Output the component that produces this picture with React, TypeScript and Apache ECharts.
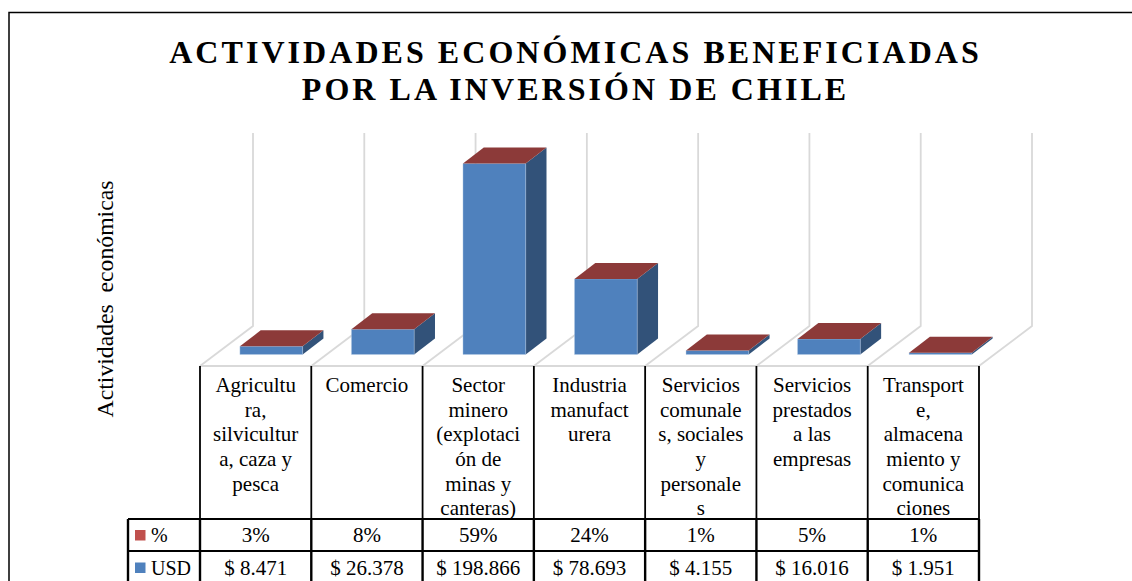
import React, { useEffect, useRef } from "react";
import * as echarts from "echarts";

const titleText = "ACTIVIDADES ECONÓMICAS BENEFICIADAS\nPOR LA INVERSIÓN DE CHILE";
const yAxisName = "Actividades  económicas";
const categories = [
  "Agricultu\nra,\nsilvicultur\na, caza y\npesca",
  "Comercio",
  "Sector\nminero\n(explotaci\nón de\nminas y\ncanteras)",
  "Industria\nmanufact\nurera",
  "Servicios\ncomunale\ns, sociales\ny\npersonale\ns",
  "Servicios\nprestados\na las\nempresas",
  "Transport\ne,\nalmacena\nmiento y\ncomunica\nciones",
];
const usdValues = [8471, 26378, 198866, 78693, 4155, 16016, 1951];
const pctValues = [3, 8, 59, 24, 1, 5, 1];
const usdLabels = ["$ 8.471", "$ 26.378", "$ 198.866", "$ 78.693", "$ 4.155", "$ 16.016", "$ 1.951"];
const pctLabels = ["3%", "8%", "59%", "24%", "1%", "5%", "1%"];

const FONT = "'Liberation Serif'";
const LEFT = 200;
const BAND = 779 / 7;
const BAR_LEFT = 199.9;
const BAR_BAND = 111.53;
const FRONT_Y = 366;
const BACK_Y = 326;
const WALL_TOP = 133;
const DX = 53;
const ROW_A = 519;
const ROW_B = 551;
const ROW_C = 584;
const KEY_X = 128;

const depthX = 20.8;
const depthY = 16;

function renderUsd(params: any, api: any) {
  const i = api.value(0);
  const [cx, top] = api.coord([i, api.value(1)]);
  const [, base] = api.coord([i, 0]);
  const band = api.size([1, 0])[0];
  const w = band * 0.5625;
  const x0 = cx + band * 0.14 - w / 2;
  const x1 = x0 + w;
  return {
    type: "group",
    children: [
      { type: "polygon", shape: { points: [[x1, top], [x1 + depthX, top - depthY], [x1 + depthX, base - depthY], [x1, base]] }, style: { fill: "#325279" } },
      { type: "rect", shape: { x: x0, y: top, width: w, height: base - top }, style: { fill: "#4F81BD", stroke: "#B9CDE5", lineWidth: 0.4 } },
    ],
  };
}

function renderPct(params: any, api: any) {
  const i = api.value(0);
  const [cx, top] = api.coord([i, api.value(2) + api.value(1)]);
  const band = api.size([1, 0])[0];
  const w = band * 0.5625;
  const x0 = cx + band * 0.14 - w / 2;
  const x1 = x0 + w;
  return {
    type: "polygon",
    shape: { points: [[x0, top], [x1, top], [x1 + depthX, top - depthY], [x0 + depthX, top - depthY]] },
    style: { fill: "#8C3A39" },
  };
}

function tableGraphics() {
  const els: any[] = [];
  const upper = { stroke: "#000", lineWidth: 1.8 };
  const lower = { stroke: "#000", lineWidth: 2.4 };
  const horiz = { stroke: "#000", lineWidth: 1.8 };
  // outer frame of the page
  els.push({ type: "polyline", shape: { points: [[9, 581], [9, 12.5], [1132, 12.5]] }, style: { stroke: "#000", lineWidth: 1.5, fill: "none" } });
  // walls and floor
  const gray = { stroke: "#D9D9D9", lineWidth: 1.8, fill: "none" };
  for (let i = 0; i <= 7; i++) {
    const x = LEFT + i * BAND;
    els.push({ type: "polyline", shape: { points: [[x, FRONT_Y], [x + DX, BACK_Y], [x + DX, WALL_TOP]] }, style: gray });
  }
  els.push({ type: "line", shape: { x1: LEFT, y1: FRONT_Y, x2: LEFT + 7 * BAND, y2: FRONT_Y }, style: gray });
  // table rules
  for (let i = 0; i <= 7; i++) {
    const x = LEFT + i * BAND;
    els.push({ type: "line", shape: { x1: x, y1: FRONT_Y, x2: x, y2: ROW_A }, style: upper });
    els.push({ type: "line", shape: { x1: x, y1: ROW_A, x2: x, y2: ROW_C }, style: lower });
  }
  els.push({ type: "line", shape: { x1: KEY_X, y1: ROW_A, x2: KEY_X, y2: ROW_C }, style: lower });
  [ROW_A, ROW_B, ROW_C].forEach((y) =>
    els.push({ type: "line", shape: { x1: KEY_X, y1: y, x2: LEFT + 7 * BAND, y2: y }, style: horiz })
  );
  // legend keys
  const rows = [
    { name: "%", color: "#C0504D", y: (ROW_A + ROW_B) / 2, labels: pctLabels },
    { name: "USD", color: "#4F81BD", y: (ROW_B + ROW_C) / 2, labels: usdLabels },
  ];
  rows.forEach((r) => {
    els.push({ type: "rect", shape: { x: 135, y: r.y - 5, width: 10.5, height: 10.5 }, style: { fill: r.color } });
    els.push({ type: "text", x: 151, y: r.y, style: { text: r.name, font: `20px ${FONT}`, fill: "#000", textAlign: "left", textVerticalAlign: "middle" } });
    r.labels.forEach((t, i) =>
      els.push({ type: "text", x: LEFT + (i + 0.5) * BAND, y: r.y, style: { text: t, font: `21px ${FONT}`, fill: "#000", textAlign: "center", textVerticalAlign: "middle" } })
    );
  });
  // vertical axis name
  els.push({ type: "text", x: 105, y: 299, rotation: Math.PI / 2, style: { text: yAxisName, font: `23.7px ${FONT}`, fill: "#000", textAlign: "center", textVerticalAlign: "middle" } });
  return els;
}

export default function App() {
  const ref = useRef<HTMLDivElement>(null);
  useEffect(() => {
    document.body.style.margin = "0";
    const style = document.createElement("style");
    style.textContent = `svg text[style*="bold"]{letter-spacing:3.05px}`;
    document.head.appendChild(style);
    const chart = echarts.init(ref.current!, undefined, { renderer: "svg" });
    chart.setOption({
      animation: false,
      backgroundColor: "#fff",
      title: {
        text: titleText,
        left: 570.5,
        top: 28.5,
        textAlign: "center",
        textStyle: { fontFamily: FONT, fontWeight: "bold", fontSize: 32, lineHeight: 37, color: "#000" },
      },
      grid: [
        { left: LEFT, width: 7 * BAND, top: 162.5, height: 192 },
        { left: BAR_LEFT, width: 7 * BAR_BAND, top: 162.5, height: 192 },
      ],
      xAxis: [
        {
          type: "category",
          gridIndex: 0,
          data: categories,
          axisLine: { show: false },
          axisTick: { show: false },
          axisLabel: { interval: 0, margin: 18, lineHeight: 24.7, fontFamily: FONT, fontSize: 21, color: "#000", align: "center", verticalAlign: "top" },
        },
        { type: "category", gridIndex: 1, data: categories, show: false },
      ],
      yAxis: [
        { type: "value", gridIndex: 0, min: 0, max: 200000, show: false, splitLine: { show: false } },
        { type: "value", gridIndex: 1, min: 0, max: 200000, show: false, splitLine: { show: false } },
      ],
      graphic: { elements: tableGraphics() },
      series: [
        { type: "custom", name: "USD", xAxisIndex: 1, yAxisIndex: 1, z: 3, clip: false, renderItem: renderUsd, encode: { x: 0, y: 1 }, data: usdValues.map((v, i) => [i, v]) },
        { type: "custom", name: "%", xAxisIndex: 1, yAxisIndex: 1, z: 4, clip: false, renderItem: renderPct, encode: { x: 0, y: 1 }, data: pctValues.map((v, i) => [i, v, usdValues[i]]) },
      ],
    });
    return () => {
      chart.dispose();
      style.remove();
    };
  }, []);
  return <div ref={ref} style={{ position: "fixed", left: 0, top: 0, width: 1132, height: 581 }} />;
}
